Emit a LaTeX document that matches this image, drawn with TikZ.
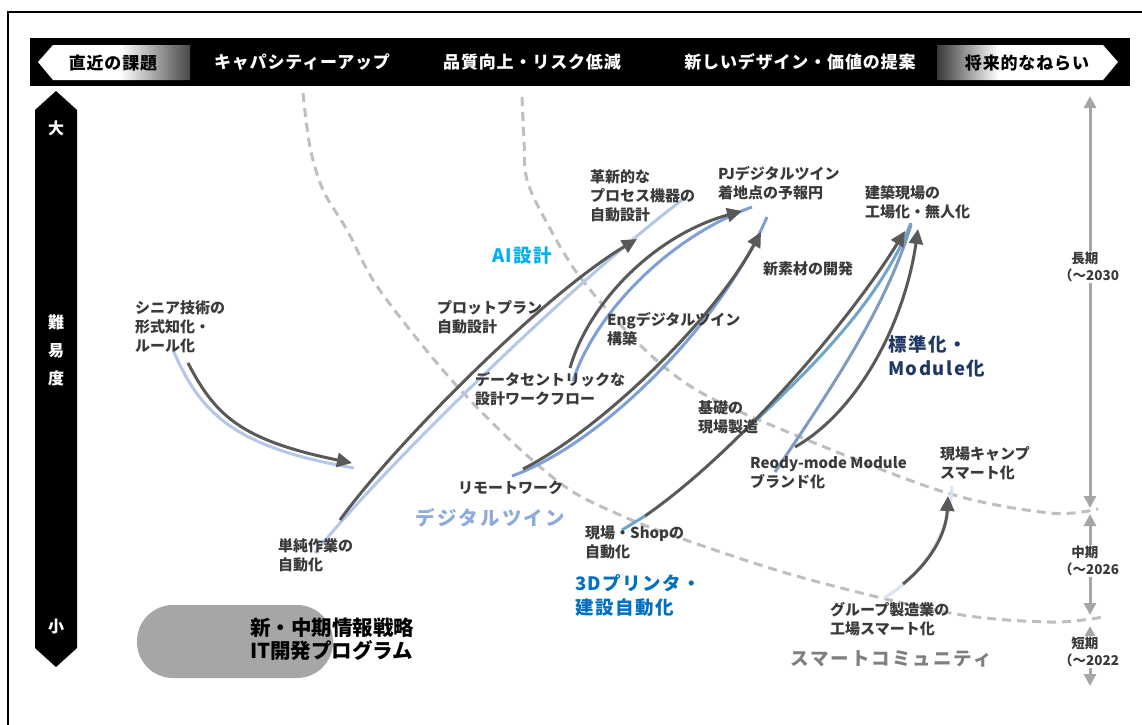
\documentclass[tikz,border=0pt]{standalone}
\usepackage{fontspec}
\setmainfont{Noto Sans CJK JP}
\usetikzlibrary{arrows.meta}
\definecolor{lblc}{HTML}{3A3A3A}
\definecolor{arr}{HTML}{595959}
\definecolor{dsh}{HTML}{BFBFBF}
\definecolor{lblue}{HTML}{B4C7E7}
\definecolor{vlblue}{HTML}{DAE3F3}
\definecolor{mblue}{HTML}{7F9FD8}
\definecolor{tblue}{HTML}{6FA5C8}
\definecolor{sblue}{HTML}{7F9CC0}
\definecolor{aiblue}{HTML}{00B0F0}
\definecolor{dtblue}{HTML}{8FAADC}
\definecolor{pblue}{HTML}{0070C0}
\definecolor{navy}{HTML}{203864}
\definecolor{tlc}{HTML}{A6A6A6}
\definecolor{smart}{HTML}{7F7F7F}
\pgfdeclarehorizontalshading{lgrad}{100bp}{color(0bp)=(white); color(25bp)=(white); color(52bp)=(white); color(75bp)=(black!72); color(100bp)=(black!72)}
\pgfdeclarehorizontalshading{rgrad}{100bp}{color(0bp)=(black!78); color(25bp)=(black!78); color(42bp)=(white); color(100bp)=(white)}
\begin{document}
\begin{tikzpicture}[x=1pt,y=-1pt,
  lbl/.style={anchor=north west, inner sep=0pt, align=left, text=lblc, font=\fontsize{15}{19}\selectfont\bfseries},
  big/.style={anchor=north west, inner sep=0pt, align=left, font=\fontsize{18.5}{24}\selectfont\bfseries\addfontfeature{LetterSpace=8}},
  dashc/.style={draw=dsh, line width=3pt, dash pattern=on 9pt off 6pt},
  darr/.style={draw=arr, line width=3pt, -{Triangle[length=15pt,width=14pt]}},
  bline/.style={line width=3pt},
  hdr/.style={text=white, font=\fontsize{17}{20}\selectfont\bfseries\addfontfeature{LetterSpace=5}, inner sep=0pt},
  vtxt/.style={text=white, font=\fontsize{16}{28}\selectfont\bfseries, inner sep=0pt, align=center},
  tlarr/.style={draw=tlc, line width=3pt, {Triangle[length=12pt,width=12pt]}-{Triangle[length=12pt,width=12pt]}},
  tllbl/.style={fill=white, inner sep=1pt, align=left, text=lblc, font=\fontsize{13.5}{17}\selectfont\bfseries}
]
\useasboundingbox (0,0) rectangle (1142,724);
\fill[white] (0,0) rectangle (1142,724);
% frame
\draw[line width=1.3pt] (8,730) -- (8,12) -- (1150,12);

% top bar
\fill[black] (30,38) rectangle (1130,86);
\shade[shading=lgrad] (38,62) -- (53,45) -- (190,45) -- (190,80) -- (53,80) -- cycle;
\shade[shading=rgrad] (937,45) -- (1103,45) -- (1118,62) -- (1103,80) -- (937,80) -- cycle;
\node[hdr,text=black] (h1) at (113,63) {直近の課題};
\node[hdr] (h2) at (302,62) {キャパシティーアップ};
\node[hdr] (h3) at (532,62) {品質向上・リスク低減};
\node[hdr] (h4) at (800,62) {新しいデザイン・価値の提案};
\node[hdr,text=black] (h5) at (1027,63) {将来的なねらい};

% left vertical bar
\fill[black] (56,91) -- (77,110) -- (77,648) -- (56,667) -- (35,648) -- (35,110) -- cycle;
\node[vtxt] (dai) at (56,128) {大};
\node[vtxt] (nan) at (56,350) {難\\易\\度};
\node[vtxt] (sho) at (56,627) {小};

% right timeline
\coordinate (t1) at (1090,96);
\coordinate (t2) at (1090,508);
\coordinate (t3) at (1090,514);
\coordinate (t4) at (1090,615);
\coordinate (t5) at (1090,626);
\coordinate (t6) at (1090,686);
\draw[tlarr] (t1) -- (t2);
\draw[tlarr] (t3) -- (t4);
\draw[tlarr] (t5) -- (t6);
\node[tllbl,anchor=west] (lterm) at (1058,267) {\hspace*{0.9em}長期\\（～2030};
\node[tllbl,anchor=west] (mterm) at (1058,561) {\hspace*{0.9em}中期\\（～2026};
\node[tllbl,anchor=west] (sterm) at (1058,652) {\hspace*{0.9em}短期\\（～2022};

% dashed curves
\draw[dashc] plot[smooth,tension=0.55] coordinates {(303,93) (310,147) (323,190) (347,230) (373,280) (410,330) (456,385) (510,440) (567,488) (620,515) (677,537) (800,577) (950,613) (1050,622) (1103,617)};
\draw[dashc] plot[smooth,tension=0.55] coordinates {(522,97) (524,140) (527,180) (547,223) (580,277) (640,345) (700,392) (800,437) (947,493) (1050,513) (1098,509)};

% pill
\node[fill=tlc, rounded corners=36pt, minimum width=196pt, minimum height=73pt, inner sep=0pt] (pill) at (235,641.5) {};

% endpoint coordinates
\coordinate (a1) at (188,363); \coordinate (a2) at (352,463);
\coordinate (ab1) at (173,350); \coordinate (ab2) at (354,468);
\coordinate (b1) at (340,520); \coordinate (b2) at (637,239);
\coordinate (bb1) at (315,553); \coordinate (bb2) at (686,197);
\coordinate (c1) at (570,368); \coordinate (c2) at (742,211);
\coordinate (cb1) at (573,381); \coordinate (cb2) at (752,207);
\coordinate (d1) at (523,469); \coordinate (d2) at (761,232);
\coordinate (db1) at (512,476); \coordinate (db2) at (767,217);
\coordinate (e0) at (622,530); \coordinate (e1) at (645,516); \coordinate (e2) at (905,231);
\coordinate (eb1) at (748,428); \coordinate (eb2) at (911,223);
\coordinate (f1) at (795,447); \coordinate (f2) at (918,229);
\coordinate (fb1) at (775,472); \coordinate (fb2) at (911,225);
\coordinate (g1) at (903,584); \coordinate (g2) at (948,496);
\coordinate (gb1) at (884,598); \coordinate (gb2) at (952,486);

% companion lines
\draw[bline,lblue] (ab1) .. controls (200,412) and (232,447) .. (ab2);
\draw[bline,lblue] (bb1) .. controls (370,482) and (565,288) .. (bb2);
\draw[bline,mblue] (cb1) .. controls (592,320) and (662,240) .. (cb2);
\draw[bline,mblue] (db1) .. controls (605,442) and (722,322) .. (db2);
\draw[bline,tblue] (e0) -- (e1);
\draw[bline,tblue] (eb1) .. controls (815,365) and (880,300) .. (eb2);
\draw[bline,sblue] (fb1) .. controls (830,390) and (885,310) .. (fb2);
\draw[bline,vlblue] (gb1) .. controls (915,580) and (950,540) .. (gb2);

% dark arrows
\draw[darr] (a1) .. controls (215,415) and (240,440) .. (a2);
\draw[darr] (b1) .. controls (390,450) and (540,297) .. (b2);
\draw[darr] (c1) .. controls (588,305) and (652,236) .. (c2);
\draw[darr] (d1) .. controls (600,430) and (712,322) .. (d2);
\draw[darr] (e1) .. controls (740,450) and (850,320) .. (e2);
\draw[darr] (f1) .. controls (860,410) and (905,320) .. (f2);
\draw[darr] (g1) .. controls (930,562) and (946,535) .. (g2);

% labels
\node[lbl] (senior) at (135,300) {シニア技術の\\形式知化・\\ルール化};
\node[lbl] (tanjun) at (278,538) {単純作業の\\自動化};
\node[lbl] (plot) at (437,300) {プロットプラン\\自動設計};
\node[lbl] (kakushin) at (590,169) {革新的な\\プロセス機器の\\自動設計};
\node[lbl] (pj) at (718,166) {PJデジタルツイン\\着地点の予報円};
\node[lbl] (sozai) at (763,261) {新素材の開発};
\node[lbl] (eng) at (607,312) {Engデジタルツイン\\構築};
\node[lbl] (data) at (475,372) {データセントリックな\\設計ワークフロー};
\node[lbl] (kenchiku) at (865,185) {建築現場の\\工場化・無人化};
\node[lbl] (kiso) at (698,400) {基礎の\\現場製造};
\node[lbl] (remote) at (458,481) {リモートワーク};
\node[lbl] (reody) at (750,456) {Reody-mode Module\\ブランド化};
\node[lbl] (camp) at (940,446) {現場キャンプ\\スマート化};
\node[lbl] (shop) at (585,526) {現場・Shopの\\自動化};
\node[lbl] (group) at (830,602) {グループ製造業の\\工場スマート化};

\node[big,text=aiblue] (ai) at (492,247) {AI設計};
\node[big,text=navy] (std) at (888,335) {標準化・\\Module化};
\node[big,text=dtblue,font=\fontsize{19.5}{24}\selectfont\bfseries\addfontfeature{LetterSpace=12}] (dtw) at (415,508) {デジタルツイン};
\node[big,text=pblue] (print) at (575,574) {3Dプリンタ・\\建設自動化};
\node[big,text=smart,font=\fontsize{18.5}{24}\selectfont\bfseries\addfontfeature{LetterSpace=11}] (smartc) at (790,650) {スマートコミュニティ};
\node[anchor=north west, inner sep=0pt, align=left, font=\fontsize{20.5}{23}\selectfont\bfseries] (itp) at (250,618) {新・中期情報戦略\\IT開発プログラム};
\end{tikzpicture}
\end{document}
